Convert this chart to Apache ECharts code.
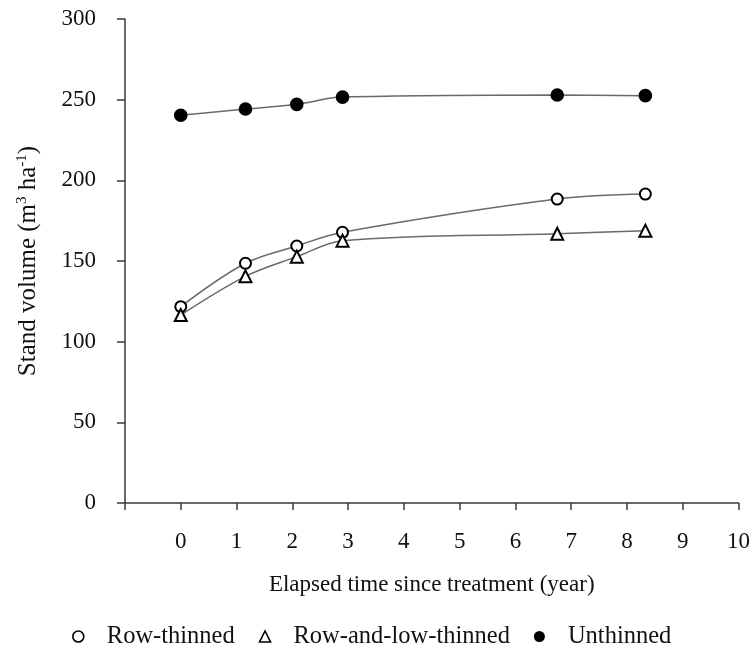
<!DOCTYPE html>
<html>
<head>
<meta charset="utf-8">
<script src="https://cdn.jsdelivr.net/npm/echarts@6/dist/echarts.min.js"></script>
<style>html,body{margin:0;padding:0;background:#fff;}#c{width:753px;height:650px;}</style>
</head>
<body>
<div id="c"></div>
<script>
var years = [0, 1.16, 2.08, 2.9, 6.75, 8.33];
var rowThinned = [121.7, 148.6, 159.3, 167.8, 188.4, 191.5];
var rowLowThinned = [116.5, 140.5, 152.7, 162.6, 166.9, 168.8];
var unthinned = [240.3, 244.2, 247.1, 251.6, 252.9, 252.5];
var xTicks = [-1, 0, 1, 2, 3, 4, 5, 6, 7, 8, 9, 10];
var yTicks = [0, 50, 100, 150, 200, 250, 300];
var seriesNames = ['Row-thinned', 'Row-and-low-thinned', 'Unthinned'];

function pairs(xs, ys) { return xs.map(function (x, i) { return [x, ys[i]]; }); }

var font = '"Liberation Serif", "Times New Roman", serif';
var axisColor = '#3a3a3a';
var chart = echarts.init(document.getElementById('c'), null, { renderer: 'canvas' });

function mk(name, data, symbol, size) {
  return {
    name: name, type: 'line', data: data, smooth: 0.35,
    symbol: symbol, symbolSize: size, showAllSymbol: true,
    lineStyle: { color: '#6a6a6a', width: 1.5 },
    itemStyle: { color: '#000', borderColor: '#000', borderWidth: 1.6 },
    emphasis: { disabled: true }, z: 3
  };
}

chart.setOption({
  animation: false,
  backgroundColor: '#fff',
  grid: { left: 125, right: 12.3, top: 19, bottom: 147, containLabel: false },
  xAxis: {
    type: 'value', min: xTicks[0], max: xTicks[xTicks.length - 1], interval: 1,
    name: 'Elapsed time since treatment (year)', nameLocation: 'middle', nameGap: 70,
    nameTextStyle: { fontFamily: font, fontSize: 23, color: '#111' },
    axisLine: { show: true, onZero: false, lineStyle: { color: axisColor, width: 1.5 } },
    axisTick: { show: true, length: 7, lineStyle: { color: axisColor, width: 1.5 } },
    axisLabel: { fontFamily: font, fontSize: 23, color: '#111', margin: 27,
      formatter: function (v) { return v < 0 ? '' : String(v); } },
    splitLine: { show: false }
  },
  yAxis: {
    type: 'value', min: yTicks[0], max: yTicks[yTicks.length - 1], interval: 50,
    name: '{a|Stand volume (m}{s|3}{a| ha}{s|-1}{a|)}', nameLocation: 'middle', nameGap: 84,
    nameTextStyle: {
      fontFamily: font, fontSize: 25, color: '#111',
      rich: {
        a: { fontFamily: font, fontSize: 25, color: '#111' },
        s: { fontFamily: font, fontSize: 15, color: '#111', padding: [0, 0, 11, 0] }
      }
    },
    axisLine: { show: true, onZero: false, lineStyle: { color: axisColor, width: 1.5 } },
    axisTick: { show: true, length: 8, lineStyle: { color: axisColor, width: 1.5 } },
    axisLabel: { fontFamily: font, fontSize: 23, color: '#111', margin: 29 },
    splitLine: { show: false }
  },
  legend: {
    top: 619, left: 67, itemWidth: 11, itemHeight: 11, itemGap: 24,
    textStyle: { fontFamily: font, fontSize: 24.5, color: '#111', padding: [0, 0, 0, 18] },
    data: [
      { name: seriesNames[0], icon: 'circle', itemStyle: { color: '#fff', borderColor: '#000', borderWidth: 1.6 } },
      { name: seriesNames[1], icon: 'triangle', itemStyle: { color: '#fff', borderColor: '#000', borderWidth: 1.6 } },
      { name: seriesNames[2], icon: 'circle', itemStyle: { color: '#000', borderColor: '#000', borderWidth: 0 } }
    ],
    selectedMode: false
  },
  series: [
    mk(seriesNames[0], pairs(years, rowThinned), 'emptyCircle', 11),
    mk(seriesNames[1], pairs(years, rowLowThinned), 'emptyTriangle', 12),
    mk(seriesNames[2], pairs(years, unthinned), 'circle', 12)
  ]
});
</script>
</body>
</html>
